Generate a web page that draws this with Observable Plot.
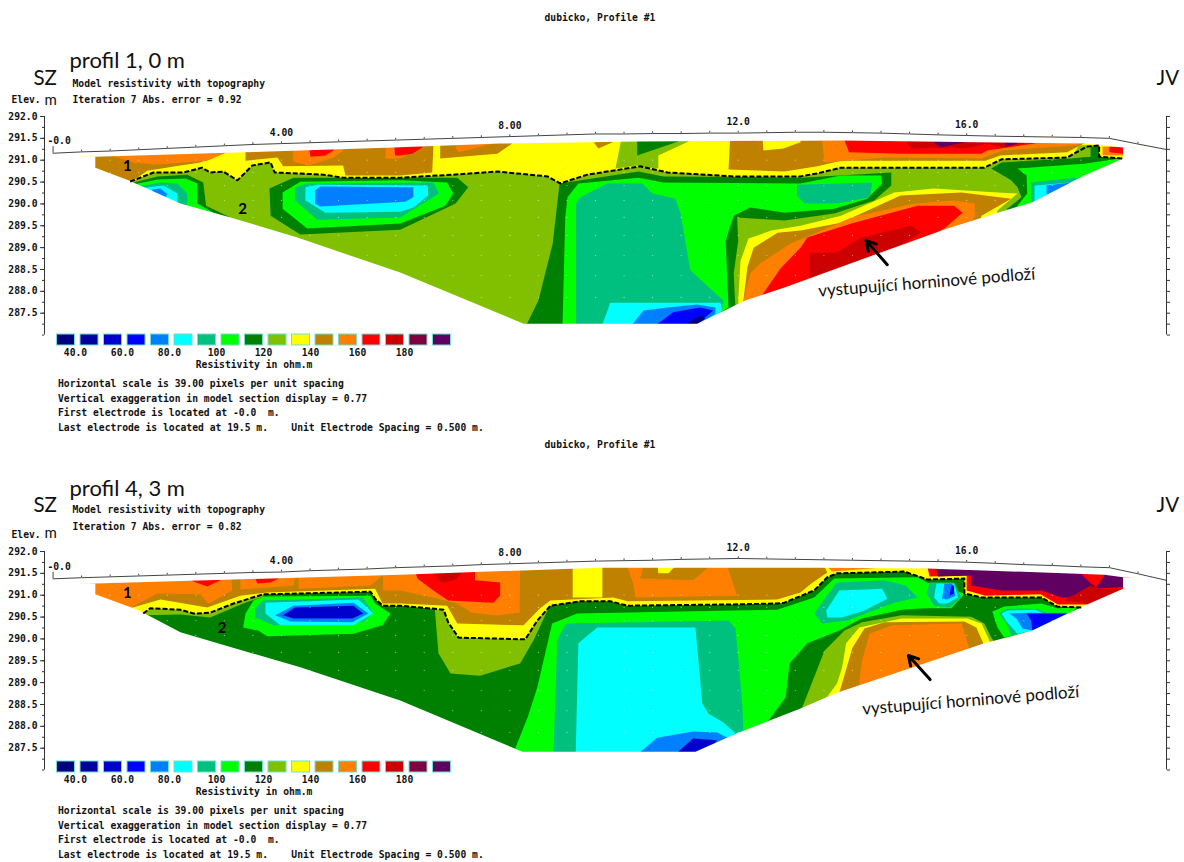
<!DOCTYPE html>
<html><head><meta charset="utf-8">
<script src="https://cdn.jsdelivr.net/npm/d3@7"></script>
<script src="https://cdn.jsdelivr.net/npm/@observablehq/plot@0.6"></script>
<style>
html,body{margin:0;padding:0;background:#fff;overflow:hidden}
body{width:1184px;height:862px;position:relative}
.panel{position:absolute;left:0;width:1184px;height:427px}
.panel svg{position:absolute;left:0;background:transparent;max-width:none}
.notes{position:absolute;left:58px;top:377px;font:bold 9.7px/14.6px "DejaVu Sans Mono",monospace;color:#111;white-space:pre}
</style></head><body>
<div id="p1" class="panel" style="top:0"></div>
<div id="p2" class="panel" style="top:427px"></div>
<script>
// resistivity classes (lower bound of each 10 ohm.m colour band)
const classes=[30,40,50,60,70,80,90,100,110,120,130,140,150,160,170,180,190];
const palette=["#00007f","#0000a0","#0000cc","#0000ff","#0080ff","#00ffff","#00c080","#00ff00","#008000","#80c000","#ffff00","#c08000","#ff8000","#ff0000","#cc0000","#800040","#600060"];
const legendTicks=[40,60,80,100,120,140,160,180];
const [NAVY,DBLUE,MBLUE,BLUE,SKY,CYAN,TEAL,GREEN,DGREEN,OLIVE,YELLOW,BROWN,ORANGE,RED,DRED,MAROON,PURPLE]=classes;
const yTicks=[292,291.5,291,290.5,290,289.5,289,288.5,288,287.5];
const minorTicks=[292,291.75,291.5,291.25,291,290.75,290.5,290.25,290,289.75,289.5,289.25,289,288.75,288.5,288.25,288,287.75,287.5,287.25,287];
const xLabels=[[4,"4.00"],[8,"8.00"],[12,"12.0"],[16,"16.0"]];
const electrodes=d3.range(0,40).map(i=>i*0.5);
const gridElevations=[291.0,290.72,290.42,290.08,289.69,289.28,288.82,288.36,287.86];

const topo1=[291.16,291.19,291.21,291.24,291.27,291.30,291.33,291.36,291.38,291.40,291.42,291.44,291.46,291.48,291.50,291.52,291.54,291.56,291.58,291.60,291.60,291.61,291.61,291.62,291.62,291.63,291.64,291.64,291.63,291.62,291.60,291.58,291.565,291.55,291.54,291.53,291.52,291.50,291.37,291.245];
const topo2=[291.375,291.40,291.42,291.44,291.46,291.48,291.50,291.52,291.53,291.56,291.58,291.60,291.63,291.65,291.67,291.70,291.72,291.74,291.76,291.78,291.79,291.80,291.82,291.83,291.84,291.83,291.82,291.81,291.80,291.79,291.78,291.77,291.755,291.73,291.70,291.68,291.65,291.63,291.49,291.34];

const top1=[[.74,291.08],[3.37,291.18],[5.96,291.29],[7.83,291.38],[10.24,291.43],[13.81,291.45],[18.06,291.38],[18.74,291.29]];
const low1=[[.74,290.83],[1.32,290.54],[2.23,290.01],[3.11,289.69],[4.28,289.23],[6.08,288.43],[8.24,287.26],[11.28,287.26],[12.12,287.79],[12.81,288.09],[15.66,289.44],[17.15,290.04],[18.06,290.65],[18.74,291.04]];
const dash1=[[1.35,290.51],[1.76,290.72],[2.28,290.72],[2.61,290.83],[2.75,290.72],[2.98,290.74],[3.23,290.54],[3.49,290.88],[3.81,290.95],[3.88,290.72],[4.73,290.67],[5.08,290.60],[6.08,290.60],[7.01,290.67],[7.78,290.74],[8.66,290.63],[8.88,290.47],[9.36,290.67],[10.28,290.86],[10.76,290.72],[11.91,290.63],[13.09,290.63],[13.39,290.70],[13.80,290.83],[16.31,290.83],[16.61,291.02],[17.76,291.06],[18.10,291.31],[18.32,291.34],[18.32,291.08],[18.74,291.04]];

const top2=[[.74,291.27],[3.16,291.36],[6.08,291.47],[9.58,291.63],[13.39,291.63],[15.31,291.61],[18.41,291.47],[18.74,291.41]];
const low2=[[.74,291.02],[1.48,290.67],[2.23,290.15],[4.33,289.35],[6.08,288.59],[8.22,287.42],[11.25,287.42],[11.98,287.84],[13.09,288.41],[13.73,288.77],[16.31,289.9],[17.15,290.19],[18.06,290.76],[18.74,291.15]];
const dash2=[[1.58,290.58],[1.70,290.70],[2.23,290.67],[2.46,290.58],[2.75,290.60],[3.16,290.81],[3.68,291.02],[4.33,291.04],[5.56,291.08],[5.64,290.92],[5.77,290.76],[6.08,290.76],[6.84,290.67],[6.92,290.38],[7.1,290.03],[8.27,289.99],[8.48,290.42],[8.71,290.76],[9.23,290.86],[9.76,290.86],[10.06,290.76],[11.91,290.79],[12.68,290.81],[12.81,290.83],[13.33,291.11],[13.56,291.41],[13.73,291.5],[14.91,291.54],[15.31,291.36],[15.96,291.38],[15.96,291.04],[16.26,290.95],[17.31,290.95],[17.59,290.74],[18.03,290.72]];

const regions1=[
[OLIVE,[[.5,287],[19,287],[19,292],[.5,292]]],
// left lens
[DGREEN,[[1.41,290.49],[1.83,290.63],[2.35,290.67],[2.63,290.49],[2.68,289.96],[3.11,289.69],[2.58,289.16],[.83,290.31]]],
[GREEN,[[1.49,290.47],[1.83,290.56],[2.32,290.58],[2.53,290.47],[2.53,290.01],[2.81,289.8],[2.4,289.16],[.83,290.31]]],
[TEAL,[[1.58,290.42],[1.88,290.49],[2.18,290.47],[2.35,290.24],[2.35,289.96],[2.05,289.39],[1.0,290.31]]],
[CYAN,[[1.67,290.38],[1.93,290.42],[2.18,290.24],[2.18,290.01],[1.88,289.62],[1.18,290.31]]],
[SKY,[[1.74,290.33],[1.88,290.35],[2.0,290.22],[1.97,290.15],[1.7,289.85]]],
// central lens
[DGREEN,[[3.79,290.35],[4.21,290.60],[7.08,290.60],[7.27,290.38],[7.05,290.01],[6.08,289.41],[4.33,289.30],[3.81,289.73]]],
[GREEN,[[4.02,290.26],[4.33,290.51],[6.08,290.54],[6.9,290.49],[7.01,290.24],[6.87,289.96],[6.08,289.55],[4.45,289.44],[4.02,289.89]]],
[TEAL,[[4.24,290.38],[4.45,290.47],[6.66,290.49],[6.76,290.24],[6.08,289.69],[4.63,289.64],[4.24,290.08]]],
[CYAN,[[4.42,290.38],[4.63,290.44],[6.56,290.42],[6.57,290.19],[6.31,289.92],[6.08,289.82],[4.77,289.80],[4.42,290.08]]],
[SKY,[[4.59,290.31],[4.68,290.40],[6.31,290.38],[6.31,290.15],[6.17,290.05],[4.68,289.94],[4.59,290.01]]],
// bedrock
[YELLOW,[[12.0,287.79],[12.04,288.7],[12.18,289.21],[12.58,289.39],[13.09,289.5],[13.8,289.73],[14.73,290.26],[15.43,290.35],[16.54,290.26],[16.89,290.24],[16.54,289.85],[16.41,289.16],[12.04,287.1]]],
[BROWN,[[12.09,287.79],[12.16,288.55],[12.27,289.0],[12.69,289.34],[13.09,289.39],[13.8,289.57],[14.84,290.19],[15.91,290.26],[16.78,290.12],[16.26,289.73],[16.15,289.16],[12.12,287.1]]],
[ORANGE,[[12.09,287.79],[12.21,288.41],[12.39,288.64],[12.91,289.09],[13.39,289.35],[13.98,289.69],[15.08,290.01],[15.78,290.08],[16.14,290.01],[16.14,289.69],[15.73,289.16],[12.12,287.1]]],
[RED,[[12.39,287.86],[12.74,288.52],[13.09,289.0],[13.21,289.23],[13.98,289.55],[15.14,289.96],[15.78,289.96],[15.93,289.8],[15.61,289.44],[13.96,288.25],[12.39,287.1]]],
[DRED,[[13.25,288.41],[13.25,288.87],[13.73,288.89],[14.16,289.23],[15.03,289.5],[15.2,289.35],[14.14,288.48],[13.25,288.02]]],
// right lens
[DGREEN,[[16.43,290.81],[16.78,290.54],[16.89,290.38],[16.96,290.15],[16.71,289.89],[16.59,289.39],[19.04,289.39],[19.04,291.22],[17.83,291.04],[16.61,290.95]]],
[GREEN,[[16.89,290.81],[17.05,290.65],[17.06,290.24],[16.89,289.96],[16.76,289.5],[19.04,289.5],[19.04,291.11],[18.06,290.92]]],
[TEAL,[[17.13,290.49],[17.89,290.6],[18.17,290.58],[18.17,289.62],[17.14,289.62]]],
[CYAN,[[17.19,290.42],[17.83,290.49],[18.17,290.42],[18.17,289.62],[17.19,289.62]]],
[SKY,[[17.4,290.42],[17.83,290.49],[18.17,290.42],[18.17,289.62],[17.4,289.62]]],
// central column
[DGREEN,[[8.87,290.47],[10.25,290.74],[10.69,290.63],[13.09,290.6],[14.68,290.72],[14.68,290.42],[14.38,290.08],[13.68,289.78],[12.81,289.62],[11.98,289.69],[12.0,289.16],[11.92,288.41],[11.95,287.63],[11.33,287.1],[8.24,287.1],[8.5,287.79],[8.75,289.09]]],
[GREEN,[[8.92,287.1],[8.97,289.69],[9.01,290.15],[9.2,290.47],[10.25,290.6],[10.69,290.49],[13.09,290.47],[13.8,290.65],[14.5,290.65],[14.52,290.47],[14.26,290.12],[13.68,289.89],[12.81,289.8],[12.21,289.92],[11.92,289.73],[11.78,289.16],[11.83,287.63],[11.16,287.1]]],
[TEAL,[[9.16,287.1],[9.16,290.01],[9.23,290.15],[9.71,290.47],[10.32,290.47],[10.5,290.24],[10.9,290.12],[10.99,289.78],[11.16,288.48],[11.74,287.79],[11.72,287.56],[11.16,287.1]]],
[CYAN,[[9.58,287.1],[9.76,287.74],[11.69,287.74],[11.72,287.56],[11.16,287.1]]],
[SKY,[[10.06,287.1],[10.34,287.56],[10.76,287.63],[11.28,287.7],[11.6,287.63],[11.6,287.49],[11.16,287.1]]],
[BLUE,[[10.43,287.1],[10.86,287.52],[11.33,287.63],[11.56,287.56],[11.16,287.1]]],
[NAVY,[[10.9,287.1],[11.33,287.45],[11.42,287.38],[11.16,287.1]]],
[TEAL,[[13.03,290.44],[14.35,290.49],[14.3,290.15],[13.74,290.01],[13.16,290.01],[13.03,290.19]]],
// layer 1 above the dashed line
[YELLOW,[...dash1,[19,291.04],[19,292],[.5,292],[.5,290.3]]],
[BROWN,[[.74,291.08],[.5,290.83],[1.35,290.49],[1.65,290.76],[2.23,290.88],[2.58,290.95],[3.05,291.18],[3.05,291.34],[.5,291.34]]],
[ORANGE,[[1.09,291.34],[1.09,291.08],[1.41,290.95],[1.83,290.90],[2.70,290.99],[2.98,291.15],[2.98,291.34]]],
[BROWN,[[3.37,291.18],[3.37,290.99],[3.93,291.06],[4.03,290.86],[5.08,290.88],[5.12,290.65],[6.08,290.65],[6.64,290.72],[6.66,291.29],[6.66,291.6],[3.37,291.6]]],
[ORANGE,[[4.19,291.6],[4.21,290.97],[4.47,290.88],[4.91,291.06],[5.08,291.22],[5.08,291.6]]],
[RED,[[4.45,291.6],[4.51,291.08],[4.77,291.11],[4.91,291.22],[4.91,291.6]]],
[ORANGE,[[5.85,291.6],[5.82,291.04],[6.08,291.04],[6.43,291.29],[6.43,291.6]]],
[RED,[[5.96,291.6],[5.99,291.11],[6.08,291.11],[6.29,291.15],[6.47,291.29],[6.47,291.6]]],
[BROWN,[[6.78,291.6],[6.78,291.04],[7.78,291.15],[8.04,291.38],[8.04,291.6]]],
[ORANGE,[[7.05,291.6],[7.05,291.29],[7.1,291.18],[7.71,291.38],[7.71,291.6]]],
[BROWN,[[9.36,291.6],[9.55,291.27],[9.8,291.41],[9.8,291.6]]],
[OLIVE,[[9.97,291.6],[9.85,290.81],[10.23,290.88],[10.23,291.6]]],
[OLIVE,[[10.23,291.6],[10.23,290.86],[10.6,290.81],[10.6,291.11],[11.13,291.43],[11.13,291.6]]],
[DGREEN,[[10.23,291.6],[10.23,291.11],[10.95,291.43],[10.95,291.6]]],
[BROWN,[[11.86,291.6],[11.83,290.79],[12.81,290.74],[13.39,290.86],[13.8,290.99],[16.33,290.99],[16.59,291.11],[17.76,291.18],[18.1,291.41],[18.1,291.6]]],
[YELLOW,[[12.42,291.6],[12.44,291.22],[12.79,291.27],[13.09,291.41],[13.09,291.6]]],
[ORANGE,[[13.46,291.6],[13.51,290.95],[14.56,291.06],[16.26,291.04],[16.61,291.22],[17.94,291.34],[17.94,291.6]]],
[RED,[[13.82,291.6],[13.94,291.18],[14.86,291.15],[16.26,291.15],[16.36,291.22],[17.19,291.38],[17.19,291.6]]],
[DRED,[[14.86,291.6],[15.03,291.27],[15.73,291.29],[15.99,291.27],[16.36,291.38],[16.61,291.29],[17.01,291.38],[17.01,291.6]]],
[PURPLE,[[15.27,291.6],[15.53,291.29],[15.96,291.41],[15.96,291.6]]],
[PURPLE,[[16.61,291.6],[16.69,291.31],[16.89,291.38],[16.89,291.6]]],
[OLIVE,[[17.97,291.34],[17.83,291.06],[18.32,291.08],[18.32,291.34]]],
[DGREEN,[[18.17,291.31],[18.17,291.06],[18.32,291.06],[18.32,291.31]]],
[ORANGE,[[18.38,291.31],[18.38,291.11],[18.74,291.11],[18.74,291.31]]],
[RED,[[18.5,291.31],[18.5,291.18],[18.74,291.15],[18.74,291.31]]]
];

const regions2=[
[DGREEN,[[.5,287],[19,287],[19,292],[.5,292]]],
[OLIVE,[[1.58,290.54],[2.23,290.56],[2.75,290.49],[3.33,290.81],[3.68,290.97],[3.68,291.22],[1.53,290.88]]],
// upper-left lens
[GREEN,[[3.33,290.26],[3.37,290.58],[3.51,290.88],[3.68,290.97],[5.56,290.99],[5.64,290.81],[5.91,290.58],[5.77,290.31],[5.26,290.12],[3.75,290.06],[3.59,290.19]]],
[TEAL,[[3.54,290.47],[3.54,290.70],[3.68,290.88],[5.42,290.95],[5.61,290.60],[5.43,290.38],[3.86,290.31],[3.59,290.47]]],
[CYAN,[[3.72,290.58],[3.72,290.83],[5.35,290.9],[5.61,290.58],[5.26,290.31],[3.98,290.31]]],
[SKY,[[3.89,290.54],[4.21,290.76],[5.26,290.83],[5.52,290.58],[5.24,290.38],[4.16,290.4]]],
[MBLUE,[[4.03,290.54],[4.24,290.72],[5.26,290.76],[5.43,290.58],[5.24,290.47],[4.21,290.47]]],
// olive pocket
[OLIVE,[[6.69,290.88],[6.69,290.60],[6.75,289.67],[6.96,289.21],[7.48,289.16],[8.18,289.44],[8.41,289.96],[8.66,290.65],[8.66,290.88]]],
// bedrock
[OLIVE,[[13.12,288.43],[13.51,289.73],[13.86,290.19],[14.17,290.38],[14.86,290.54],[16.08,290.51],[16.31,290.35],[16.43,290.03],[16.48,289.94],[16.48,289.5],[13.12,288.0]]],
[YELLOW,[[13.51,288.59],[13.73,288.98],[13.82,289.35],[13.89,289.9],[14.12,290.26],[14.86,290.47],[16.01,290.47],[16.26,290.35],[16.4,289.96],[16.4,289.5],[13.51,288.2]]],
[BROWN,[[13.77,288.77],[14.0,289.8],[14.21,290.24],[14.56,290.38],[15.96,290.4],[16.17,290.26],[16.29,289.9],[16.29,289.5],[13.77,288.4]]],
[ORANGE,[[14.12,288.98],[14.17,289.51],[14.3,290.12],[14.7,290.31],[15.91,290.35],[16.03,289.85],[16.03,289.5],[14.12,288.6]]],
// central column
[GREEN,[[8.01,287.22],[8.31,288.2],[8.48,288.89],[8.74,290.35],[9.18,290.58],[11.91,290.65],[12.68,290.67],[13.33,290.95],[13.68,291.38],[15.14,291.41],[15.31,291.29],[15.96,291.04],[15.91,290.95],[15.73,290.70],[15.26,290.70],[14.86,290.67],[14.16,290.47],[13.77,290.19],[13.21,289.9],[12.9,289.44],[12.83,288.66],[12.53,288.13],[12.09,287.84],[11.34,287.22]]],
[TEAL,[[8.76,287.22],[8.83,289.96],[8.94,290.26],[9.01,290.35],[11.83,290.42],[11.95,290.24],[12.0,289.57],[12.07,288.52],[12.09,287.9],[11.34,287.22]]],
[CYAN,[[9.15,287.22],[9.2,289.9],[9.53,290.26],[11.25,290.26],[11.37,288.52],[11.48,288.29],[11.74,288.09],[11.95,287.84],[11.34,287.22]]],
[SKY,[[10.11,287.22],[10.58,287.74],[11.21,287.88],[11.63,287.86],[11.81,287.74],[11.34,287.22]]],
[MBLUE,[[10.78,287.22],[11.21,287.72],[11.63,287.68],[11.34,287.22]]],
// upper-right lenses
[TEAL,[[13.33,290.58],[13.72,291.29],[14.56,291.34],[14.93,291.22],[15.14,290.95],[14.73,290.83],[13.91,290.42],[13.47,290.35]]],
[CYAN,[[13.54,290.65],[13.77,291.11],[14.52,291.15],[14.61,290.92],[14.21,290.65],[13.81,290.49],[13.56,290.49]]],
[TEAL,[[15.3,291.04],[15.35,291.29],[15.78,291.29],[15.91,290.95],[15.7,290.72],[15.43,290.76]]],
[CYAN,[[15.43,290.95],[15.47,291.27],[15.78,291.27],[15.85,290.95],[15.66,290.81],[15.52,290.81]]],
[SKY,[[15.57,290.92],[15.61,291.27],[15.75,291.27],[15.8,290.99],[15.66,290.9]]],
[BLUE,[[15.7,290.99],[15.73,291.22],[15.78,291.22],[15.78,291.04]]],
// lower-right lens
[GREEN,[[16.45,290.63],[16.66,290.74],[17.31,290.81],[17.59,290.70],[17.94,290.72],[17.83,290.6],[17.15,290.19],[16.66,290.03],[16.54,290.26]]],
[TEAL,[[16.57,290.58],[16.71,290.69],[17.24,290.69],[17.41,290.6],[17.76,290.6],[17.15,290.19],[16.78,290.08],[16.7,290.35]]],
[CYAN,[[16.61,290.58],[16.71,290.65],[17.19,290.67],[17.4,290.56],[17.76,290.58],[17.15,290.19],[16.89,290.12],[16.71,290.38]]],
[SKY,[[16.75,290.58],[17.13,290.6],[17.76,290.58],[17.15,290.19],[16.98,290.24],[16.87,290.47]]],
[BLUE,[[17.05,290.58],[17.76,290.58],[17.15,290.19],[17.13,290.42]]],
// layer 1 above the dashed line
[YELLOW,[...dash2,[19,290.72],[19,292],[.5,292],[.5,290.3]]],
[BROWN,[[1.35,290.70],[1.88,290.9],[2.7,290.72],[3.28,290.99],[3.75,291.06],[5.64,291.15],[5.77,290.81],[6.08,290.81],[6.9,290.76],[7.08,290.35],[8.24,290.31],[8.53,290.7],[8.71,290.88],[9.81,290.95],[10.06,290.86],[12.68,290.9],[13.09,291.06],[13.28,291.27],[13.56,291.52],[13.46,291.79],[.74,291.79],[.65,291.0]]],
[ORANGE,[[.65,290.88],[1.35,290.67],[1.41,290.76],[1.83,291.04],[2.58,291.02],[2.72,290.81],[3.14,291.11],[3.11,291.57],[.65,291.57]]],
[ORANGE,[[3.28,291.7],[3.28,291.13],[4.21,291.22],[4.28,291.7]]],
[RED,[[2.40,291.57],[2.40,291.34],[2.7,291.2],[2.93,291.34],[2.93,291.57]]],
[RED,[[3.54,291.7],[3.54,291.38],[3.58,291.27],[3.81,291.29],[3.95,291.38],[3.95,291.7]]],
[ORANGE,[[4.3,291.38],[4.3,291.15],[5.56,291.22],[5.77,291.45],[5.77,291.7],[4.3,291.7]]],
[ORANGE,[[8.17,290.6],[7.78,290.54],[7.34,290.6],[7.08,290.81],[6.66,290.95],[6.08,291.11],[5.78,291.11],[5.78,291.68],[8.18,291.68]]],
[RED,[[6.31,291.68],[6.38,291.38],[6.66,291.11],[6.92,290.88],[7.71,290.83],[7.83,290.99],[7.83,291.29],[7.39,291.34],[7.39,291.68]]],
[DRED,[[6.52,291.68],[6.82,291.29],[7.05,291.36],[7.27,291.68]]],
[YELLOW,[[9.1,291.8],[9.1,290.95],[9.62,290.95],[9.62,291.8]]],
[ORANGE,[[10.02,291.8],[10.16,291.27],[10.2,290.95],[11.98,290.99],[11.77,291.8]]],
[BROWN,[[10.37,291.8],[10.28,291.38],[11.21,291.34],[11.63,291.8]]],
[YELLOW,[[10.58,291.8],[10.6,291.5],[10.78,291.5],[10.99,291.8]]],
[ORANGE,[[13.46,291.8],[13.64,291.54],[14.84,291.66],[15.28,291.61],[15.28,291.8]]],
// purple body top right
[RED,[[15.31,291.66],[15.35,291.43],[16.0,291.45],[16.0,291.11],[16.33,290.99],[17.29,291.02],[17.6,290.79],[18.17,290.79],[18.87,291.22],[18.87,291.57]]],
[PURPLE,[[15.47,291.59],[15.5,291.43],[16.08,291.45],[16.08,291.22],[16.61,291.11],[17.32,291.11],[17.66,290.95],[17.78,290.95],[18.17,291.15],[18.74,291.18],[18.87,291.57]]],
[DRED,[[17.71,290.88],[18.17,291.22],[18.34,291.15],[18.74,291.15],[18.74,291.06],[18.17,290.79]]],
[RED,[[18.03,291.6],[18.03,291.45],[18.18,291.27],[18.27,291.18],[18.32,291.27],[18.41,291.45],[18.41,291.6]]]
];

const profiles=[
 {id:"p1",label:"profil 1, 0 m",err:"Iteration 7 Abs. error = 0.92",top:116,topo:topo1,upper:top1,lower:low1,dash:dash1,regions:regions1,
  one:[1.30,290.87],two:[3.32,289.87],arrow:[14.61,288.61,14.24,289.16],note:[15.3,288.2],my:100,ey:99,py:60,sy:78,hy:83,iy:99},
 {id:"p2",label:"profil 4, 3 m",err:"Iteration 7 Abs. error = 0.82",top:124,topo:topo2,upper:top2,lower:low2,dash:dash2,regions:regions2,
  one:[1.30,291.04],two:[2.96,290.24],arrow:[15.36,289.07,14.98,289.62],note:[16.07,288.59],my:106,ey:107,py:61,sy:78,hy:82,iy:99}
];

const mono={fontFamily:"DejaVu Sans Mono",fontWeight:"bold",fontSize:9.7,fill:"#111"};
const sans={fontFamily:"Lato",fill:"#111"};
const ML=44,H=345;

function draw(p){
  const at=(s,x,y,o={})=>Plot.text([s],{text:d=>d,frameAnchor:"top-left",dx:x-ML,dy:y-p.top,lineAnchor:"middle",textAnchor:"start",...o});
  const rows=p.regions.flatMap(([c,pts],i)=>pts.map(q=>({id:i,c,x:q[0],y:q[1]})));
  const maskUp=[[.3,p.upper[0][1]],...p.upper,[19.3,p.upper.at(-1)[1]],[19.3,292.2],[.3,292.2]];
  const maskLo=[[.3,p.upper[0][1]],p.upper[0],...p.lower,p.upper.at(-1),[19.3,p.upper.at(-1)[1]],[19.3,286.9],[.3,286.9]];
  const ring=[...p.upper,...[...p.lower].reverse()];
  const grid=gridElevations.flatMap(e=>electrodes.map(x=>[x,e])).filter(q=>d3.polygonContains(ring,q));
  const topoRows=electrodes.map((x,i)=>({x,e:p.topo[i]}));
  const H1=p.top+196.7;
  const poly=(pts)=>Plot.line(pts,{x:d=>d[0],y:d=>d[1],fill:"white",stroke:"none",curve:"linear-closed"});
  const chart=Plot.plot({
    width:1184,height:H,marginLeft:ML,marginRight:18,marginTop:p.top,marginBottom:H-H1,
    style:{background:"transparent",overflow:"visible"},
    x:{domain:[-0.15,19.5],range:[ML,1166],axis:null},
    y:{domain:[287.5,292],range:[H1,p.top],axis:null},
    color:{type:"ordinal",domain:classes,range:palette},
    marks:[
      Plot.line(rows,{x:"x",y:"y",z:"id",fill:"c",stroke:"none",curve:"linear-closed"}),
      Plot.dot(grid,{x:d=>d[0],y:d=>d[1],r:0.6,fill:"white",fillOpacity:0.55}),
      poly(maskUp),poly(maskLo),
      Plot.line(p.dash,{x:d=>d[0],y:d=>d[1],stroke:"#000",strokeWidth:2,strokeDasharray:"5,2",strokeLinecap:"butt"}),
      Plot.line(topoRows,{x:"x",y:"e",stroke:"#444",strokeWidth:1}),
      Plot.ruleX(topoRows,{x:"x",y1:"e",y2:d=>d.e+(d.x===0?0.15:0.04),stroke:"#444",strokeWidth:1}),
      Plot.text(xLabels,{x:d=>d[0],y:d=>p.topo[d[0]*2],text:d=>d[1],dy:-11,...mono}),
      Plot.text(["-0.0"],{x:()=>0,y:()=>p.topo[0],text:d=>d,dy:-12,dx:6,...mono}),
      Plot.ruleX([-0.15],{y1:292,y2:287,stroke:"#333"}),
      Plot.ruleX([19.5],{y1:292,y2:287,stroke:"#333"}),
      Plot.axisY({anchor:"left",ticks:minorTicks,tickSize:2,tickFormat:()=>"",stroke:"#333"}),
      Plot.axisY({anchor:"left",ticks:yTicks,tickSize:4,tickPadding:3,tickFormat:d=>d.toFixed(1),label:null,stroke:"#333",...mono}),
      Plot.axisY({anchor:"right",ticks:minorTicks,tickSize:3,tickFormat:()=>"",label:null,stroke:"#333"}),
      Plot.text(["1"],{x:()=>p.one[0],y:()=>p.one[1],text:d=>d,fontSize:15,fontWeight:"bold",...{fontFamily:"Lato",fill:"#000"}}),
      Plot.text(["2"],{x:()=>p.two[0],y:()=>p.two[1],text:d=>d,fontSize:15,fontWeight:"bold",...{fontFamily:"Lato",fill:"#000"}}),
      Plot.arrow([p.arrow],{x1:d=>d[0],y1:d=>d[1],x2:d=>d[2],y2:d=>d[3],stroke:"#000",strokeWidth:3,headLength:10}),
      Plot.text(["vystupující horninové podloží"],{x:()=>p.note[0],y:()=>p.note[1],text:d=>d,rotate:-4.6,fontSize:17,...sans}),
      at("dubicko, Profile #1",544,17,mono),
      at(p.label,69,p.py,{...sans,fontSize:22}),
      at("SZ",33,p.sy,{...sans,fontSize:20.5}),
      at("JV",1156,p.sy,{...sans,fontSize:20.5}),
      at("m",44,p.my,{...sans,fontSize:15}),
      at("Elev.",11,p.ey,mono),
      at("Model resistivity with topography",72,p.hy,mono),
      at(p.err,72,p.iy,mono)
    ]
  });
  chart.style.top="0px";
  const legend=Plot.plot({
    width:1184,height:44,marginLeft:51.5,marginRight:733,marginTop:4,marginBottom:29,
    style:{background:"transparent",overflow:"visible"},
    x:{domain:[30,200],range:[51.5,451],axis:null},
    color:{type:"ordinal",domain:classes,range:palette},
    marks:[
      Plot.rect(classes,{x1:d=>d,x2:d=>d+10,fill:d=>d,stroke:"#70e0d0",strokeWidth:1,insetLeft:5,insetRight:0.5}),
      Plot.text(legendTicks,{x:d=>d,text:d=>d<100?d.toFixed(1):String(d),frameAnchor:"top",lineAnchor:"middle",dy:18,...mono}),
      Plot.text(["Resistivity in ohm.m"],{x:()=>116,text:d=>d,frameAnchor:"top",lineAnchor:"middle",dy:30,...mono})
    ]
  });
  legend.style.top="330px";
  const host=document.getElementById(p.id);
  host.append(chart,legend);
  const notes=document.createElement("div");
  notes.className="notes";
  notes.textContent="Horizontal scale is 39.00 pixels per unit spacing\nVertical exaggeration in model section display = 0.77\nFirst electrode is located at -0.0  m.\nLast electrode is located at 19.5 m.    Unit Electrode Spacing = 0.500 m.";
  host.append(notes);
}
profiles.forEach(draw);
</script>
</body></html>
